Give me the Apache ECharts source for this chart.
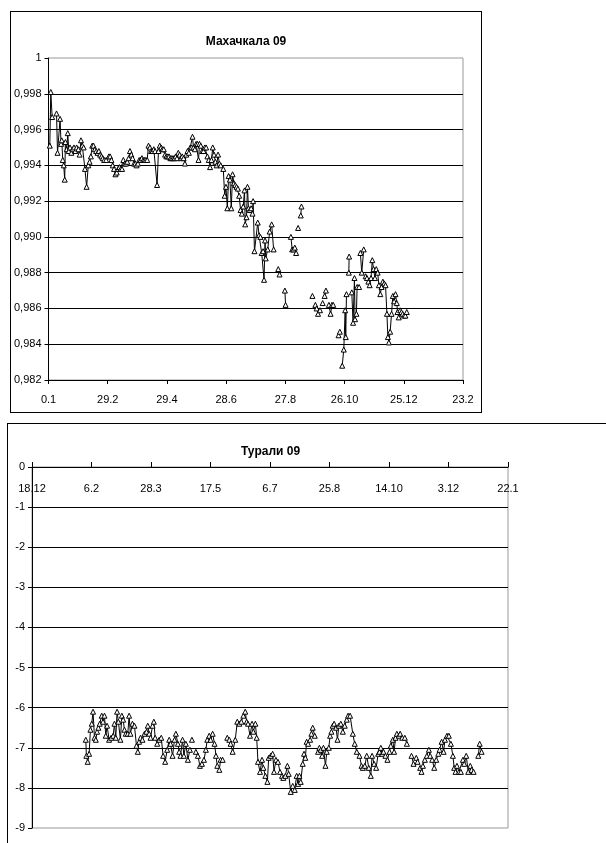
<!DOCTYPE html>
<html>
<head>
<meta charset="utf-8">
<script src="https://cdn.jsdelivr.net/npm/echarts@6/dist/echarts.min.js"></script>
<style>
html,body{margin:0;padding:0;width:606px;height:843px;overflow:hidden;background:#fff;}
#c1{position:absolute;left:10px;top:11px;width:472px;height:402px;border:1px solid #000;box-sizing:border-box;}
#c2{position:absolute;left:7px;top:423px;width:640px;height:440px;border:1px solid #000;box-sizing:border-box;}
</style>
</head>
<body>
<div id="c1"></div>
<div id="c2"></div>
<script>
// ---- Top chart: Махачкала 09 ----
const mkTitle = 'Махачкала 09';
const mkTickLabels = ['0.1','29.2','29.4','28.6','27.8','26.10','25.12','23.2'];
// [day offset from first tick, value]; null = gap in the line
const mkPoints = [
[1.3,0.9951],[2.3,0.9981],[3.7,0.9967],null,
[8.1,0.9969],[9.1,0.9947],[11.7,0.9966],[12.7,0.9952],[13.4,0.9954],[14.4,0.9943],[15.4,0.9940],[16.4,0.9932],
[17.1,0.9953],[18.5,0.9949],[19.5,0.9958],[20.5,0.9948],[21.8,0.9950],[23.1,0.9947],[24.5,0.9949],[25.8,0.9950],
[27.2,0.9948],[28.5,0.9950],[30.2,0.9949],[31.5,0.9946],[32.9,0.9954],[34.2,0.9951],[35.6,0.9950],[36.9,0.9938],
[38.6,0.9928],[40.3,0.9940],[41.6,0.9942],[42.9,0.9945],[44.3,0.9951],[45.6,0.9951],[47.0,0.9949],[48.3,0.9948],
[49.7,0.9947],[51.0,0.9948],[52.3,0.9946],[53.7,0.9945],[55.0,0.9944],[56.4,0.9943],[58.4,0.9943],[61.1,0.9945],
[62.4,0.9945],[63.7,0.9943],[65.1,0.9940],[66.4,0.9938],[67.8,0.9935],[69.1,0.9936],[70.5,0.9938],[71.8,0.9939],
[73.1,0.9938],[74.5,0.9938],[75.8,0.9943],[77.2,0.9941],[78.5,0.9941],[79.8,0.9942],[81.2,0.9944],[82.5,0.9948],
[83.9,0.9946],[85.2,0.9944],[86.6,0.9941],[87.9,0.9941],[89.2,0.9940],[90.6,0.9941],[91.9,0.9943],[93.3,0.9943],
[94.6,0.9944],[96.0,0.9943],[97.3,0.9943],[98.6,0.9943],[100.0,0.9943],[101.3,0.9951],[102.7,0.9950],[104.0,0.9948],
[105.3,0.9948],[106.7,0.9949],[108.0,0.9948],[110.0,0.9929],[111.4,0.9948],[112.7,0.9951],[114.1,0.9950],[115.4,0.9949],
[116.8,0.9949],[118.1,0.9946],[119.4,0.9945],[120.8,0.9945],[122.1,0.9945],[123.5,0.9944],[124.8,0.9944],[126.1,0.9944],
[127.5,0.9944],[128.8,0.9945],[130.2,0.9944],[131.5,0.9947],[132.8,0.9946],[134.2,0.9944],[135.5,0.9945],[136.9,0.9944],
[138.2,0.9941],[139.6,0.9946],[140.9,0.9948],[142.2,0.9947],[143.6,0.9950],[144.9,0.9950],[145.9,0.9956],[146.9,0.9950],
[148.3,0.9949],[149.6,0.9952],[151.0,0.9952],[152.0,0.9943],[153.0,0.9952],[154.3,0.9951],[155.7,0.9948],[157.0,0.9948],
[158.3,0.9950],[159.7,0.9950],[161.0,0.9945],[162.4,0.9943],[163.7,0.9939],[165.1,0.9943],[166.4,0.9950],[167.7,0.9946],
[169.1,0.9942],[170.4,0.9940],[171.8,0.9946],[173.1,0.9941],[174.5,0.9940],[177.1,0.9938],[178.5,0.9923],[179.8,0.9928],
[181.2,0.9916],[182.5,0.9934],[183.8,0.9932],[185.2,0.9916],[186.5,0.9935],[187.9,0.9930],[189.2,0.9929],[190.5,0.9928],
[191.9,0.9927],[193.2,0.9923],[194.6,0.9915],[195.9,0.9913],[197.3,0.9917],[198.6,0.9926],[199.3,0.9907],[200.6,0.9911],
[201.6,0.9928],[202.6,0.9916],[204.0,0.9915],[205.3,0.9916],[206.7,0.9913],[207.3,0.9920],[208.7,0.9892],[212.0,0.9908],
[213.3,0.9901],[214.7,0.9900],[216.0,0.9891],[217.4,0.9892],[218.4,0.9876],[219.4,0.9898],[220.1,0.9888],[222.1,0.9893],
[224.1,0.9903],[226.1,0.9907],[228.1,0.9893],null,
[232.8,0.9882],[234.1,0.9879],null,
[239.5,0.9870],[240.2,0.9862],null,
[245.6,0.9900],[246.9,0.9893],[248.2,0.9893],[249.6,0.9894],[250.9,0.9891],null,
[252.9,0.9905],null,
[255.6,0.9912],[256.3,0.9917],null,
[267.4,0.9867],null,
[270.4,0.9862],[271.7,0.9860],[273.1,0.9857],[275.1,0.9859],null,
[277.8,0.9863],null,
[279.8,0.9867],[281.1,0.9870],null,
[284.1,0.9862],[285.8,0.9857],[287.2,0.9862],[288.5,0.9862],null,
[293.9,0.9845],[295.2,0.9847],null,
[297.6,0.9828],[299.2,0.9837],[300.6,0.9859],[301.2,0.9844],[301.9,0.9868],null,
[304.3,0.9880],[304.6,0.9889],null,
[307.3,0.9869],[308.6,0.9852],[310.0,0.9877],[310.6,0.9854],[312.0,0.9857],[312.7,0.9872],[314.7,0.9872],null,
[316.0,0.9891],[317.4,0.9880],[319.4,0.9893],null,
[321.4,0.9878],[322.7,0.9877],[324.1,0.9875],[325.4,0.9873],[326.8,0.9877],[328.1,0.9887],[329.4,0.9882],[330.8,0.9877],
[332.1,0.9882],[333.5,0.9880],[334.8,0.9873],[336.2,0.9868],[337.5,0.9872],[338.8,0.9875],[340.2,0.9874],[341.5,0.9873],
[342.9,0.9857],[343.9,0.9844],[344.9,0.9841],[346.2,0.9847],[347.6,0.9857],[348.9,0.9867],[350.2,0.9864],[351.6,0.9868],
[352.9,0.9863],[353.6,0.9858],[354.9,0.9855],[356.3,0.9859],[357.6,0.9858],[358.9,0.9857],[360.3,0.9856],[361.6,0.9856],
[363.0,0.9858]
];

// ---- Bottom chart: Турали 09 ----
const trTitle = 'Турали 09';
const trTickLabels = ['18.12','6.2','28.3','17.5','6.7','25.8','14.10','3.12','22.1'];
const trPoints = [
[45.2,-6.8],[45.7,-7.2],[46.8,-7.35],[48.0,-7.15],[49.1,-6.55],[50.2,-6.4],[51.3,-6.1],[52.5,-6.75],[53.6,-6.8],
[54.7,-6.6],[55.8,-6.5],[56.9,-6.4],[58.6,-6.2],[59.7,-6.35],[60.9,-6.2],[62.0,-6.7],[63.1,-6.45],[64.8,-6.8],
[66.5,-6.75],[68.2,-6.7],[69.3,-6.4],[70.4,-6.75],[71.5,-6.1],[72.6,-6.35],[74.3,-6.8],[75.5,-6.2],[76.6,-6.3],
[77.7,-6.55],[78.8,-6.65],[80.5,-6.65],[81.6,-6.2],[82.7,-6.65],[84.4,-6.4],[86.1,-6.45],[87.8,-6.95],[88.9,-7.1],
[90.0,-6.85],[91.2,-6.75],[92.8,-6.8],[94.5,-6.65],[96.2,-6.6],[97.3,-6.45],[98.5,-6.65],[99.6,-6.75],[101.3,-6.45],
[102.4,-6.35],[103.5,-6.75],[105.2,-6.9],[106.9,-6.8],[108.6,-6.75],[110.2,-7.2],[111.9,-7.35],[113.6,-7.05],[115.3,-6.8],
[116.4,-6.9],[118.1,-7.2],[119.8,-6.8],[120.9,-6.65],[122.6,-6.9],[123.7,-7.1],[124.8,-7.2],[126.5,-6.8],[127.6,-7.2],
[129.3,-6.9],[131.0,-7.3],[132.7,-7.05],null,
[134.4,-6.8],null,
[137.7,-7.1],[139.4,-7.2],[141.1,-7.45],[142.8,-7.4],[144.5,-7.3],[146.1,-7.05],[147.3,-6.8],[148.9,-6.7],[150.1,-6.8],
[151.8,-6.65],[153.4,-6.9],[154.6,-7.2],[155.7,-7.45],[157.4,-7.55],[158.5,-7.3],[160.2,-7.3],null,
[164.1,-6.75],[165.8,-6.8],[166.9,-6.9],[168.6,-7.1],[170.8,-6.8],[172.5,-6.35],[174.2,-6.4],[175.9,-6.35],[177.6,-6.2],
[179.2,-6.1],[180.4,-6.35],[181.5,-6.4],[183.2,-6.7],[184.9,-6.4],[186.0,-6.6],[187.7,-6.4],[188.8,-6.75],[189.9,-7.35],
[191.6,-7.6],[193.3,-7.3],[194.4,-7.5],[196.1,-7.7],[197.8,-7.85],[198.9,-7.25],[200.6,-7.2],[202.2,-7.15],[203.4,-7.6],
[205.0,-7.3],[206.7,-7.35],[208.4,-7.6],[210.1,-7.7],[211.2,-7.75],[212.9,-7.7],[214.6,-7.45],[215.7,-7.65],[217.4,-8.1],
[219.1,-7.95],[220.8,-8.05],[222.4,-7.7],[223.6,-7.9],[224.7,-7.7],[225.8,-7.85],[227.5,-7.4],[228.6,-7.15],[229.7,-7.25],
[230.8,-6.85],[232.0,-6.9],[233.7,-6.8],[234.8,-6.65],[235.9,-6.5],[237.6,-6.7],null,
[240.4,-7.1],[241.5,-7.0],[242.6,-7.05],[243.8,-7.2],[244.9,-7.0],[246.6,-7.45],[247.7,-7.1],[249.4,-7.0],[250.5,-6.7],
[251.6,-6.6],[252.7,-6.45],[253.9,-6.4],[255.5,-6.5],[256.7,-6.8],[257.8,-6.45],[259.5,-6.4],[261.2,-6.6],[262.8,-6.45],
[264.5,-6.3],[265.6,-6.2],[267.3,-6.2],[269.6,-6.65],[271.2,-6.9],[272.9,-7.1],[275.2,-7.2],[276.9,-7.45],[278.0,-7.5],
[279.7,-7.45],[281.3,-7.2],[283.0,-7.5],[284.7,-7.7],[285.8,-7.2],[287.5,-7.4],[289.2,-7.5],[290.9,-7.15],[292.0,-7.1],
[293.1,-7.0],[294.2,-7.15],[295.4,-7.1],[297.0,-7.2],[298.7,-7.3],[300.4,-7.1],[301.5,-6.95],[303.2,-6.8],[304.3,-7.1],
[305.5,-6.75],[306.6,-6.65],[308.3,-6.7],[309.4,-6.65],[311.1,-6.75],[313.3,-6.75],[315.0,-6.9],null,
[318.9,-7.2],[320.6,-7.4],null,
[322.9,-7.25],[324.0,-7.35],null,
[326.2,-7.5],[327.3,-7.6],[328.5,-7.45],[330.1,-7.3],[331.8,-7.2],[333.5,-7.05],[334.6,-7.2],[336.3,-7.3],[338.0,-7.5],
[339.7,-7.3],[341.4,-7.15],[342.5,-7.05],[344.2,-6.85],[345.9,-7.1],[347.0,-6.8],[348.7,-6.7],[350.3,-6.7],[352.0,-6.9],
[353.7,-7.2],[354.8,-7.5],[355.9,-7.6],[357.1,-7.45],[358.8,-7.6],[360.4,-7.6],[362.1,-7.3],[363.2,-7.4],[364.9,-7.2],
[366.6,-7.6],[368.3,-7.45],[369.4,-7.55],[371.1,-7.6],null,
[375.0,-7.2],[376.2,-6.9],[377.8,-7.1]
];

function toSeriesData(points){
  const out = [];
  let last = 0;
  for (const p of points){
    if (p === null){ out.push([last + 0.01, '-']); }
    else { out.push([p[0], p[1]]); last = p[0]; }
  }
  return out;
}

const FONT = '"Liberation Sans", Arial, sans-serif';
const lineSeries = (points) => ({
  type: 'line',
  data: toSeriesData(points),
  symbol: 'triangle',
  symbolSize: 5,
  showAllSymbol: true,
  connectNulls: false,
  lineStyle: {color: '#000', width: 1},
  itemStyle: {color: '#fff', borderColor: '#000', borderWidth: 1},
  emphasis: {disabled: true},
  animation: false
});

const c1 = echarts.init(document.getElementById('c1'), null, {renderer: 'canvas'});
c1.setOption({
  animation: false,
  title: {text: mkTitle, left: 'center', top: 19,
    textStyle: {fontFamily: FONT, fontSize: 12, fontWeight: 'bold', color: '#000'}},
  grid: {left: 35, top: 46, width: 417, height: 322, show: true, borderColor: '#999', borderWidth: 1},
  xAxis: {
    type: 'value', min: 0, max: 420, interval: 60,
    axisLine: {lineStyle: {color: '#000', width: 1}},
    axisTick: {show: true, length: 4, lineStyle: {color: '#000'}},
    axisLabel: {margin: 14, fontFamily: FONT, fontSize: 11, color: '#000',
      formatter: v => mkTickLabels[Math.round(v / 60)]},
    splitLine: {show: false}
  },
  yAxis: {
    type: 'value', min: 0.982, max: 1, interval: 0.002,
    axisLine: {show: true, lineStyle: {color: '#000', width: 1}},
    axisTick: {show: true, length: 4, lineStyle: {color: '#000'}},
    axisLabel: {margin: 7, fontFamily: FONT, fontSize: 11, color: '#000',
      formatter: v => Math.abs(v - 1) < 1e-9 ? '1' : v.toFixed(3).replace('.', ',')},
    splitLine: {show: true, showMaxLine: false, lineStyle: {color: '#000', width: 1}}
  },
  series: [lineSeries(mkPoints)]
});

const c2 = echarts.init(document.getElementById('c2'), null, {renderer: 'canvas'});
c2.setOption({
  animation: false,
  title: {text: trTitle, left: 228, top: 17,
    textStyle: {fontFamily: FONT, fontSize: 12, fontWeight: 'bold', color: '#000'}},
  grid: {left: 24, top: 43, width: 476, height: 361, show: true, borderColor: '#999', borderWidth: 1},
  xAxis: {
    type: 'value', position: 'top', min: 0, max: 400, interval: 50,
    axisLine: {lineStyle: {color: '#000', width: 1}},
    axisTick: {show: true, inside: false, length: 5, lineStyle: {color: '#000'}},
    axisLabel: {inside: true, margin: 16, fontFamily: FONT, fontSize: 11, color: '#000',
      formatter: v => trTickLabels[Math.round(v / 50)]},
    splitLine: {show: false}
  },
  yAxis: {
    type: 'value', min: -9, max: 0, interval: 1,
    axisLine: {show: true, lineStyle: {color: '#000', width: 1}},
    axisTick: {show: true, length: 4, lineStyle: {color: '#000'}},
    axisLabel: {margin: 7, fontFamily: FONT, fontSize: 11, color: '#000'},
    splitLine: {show: true, showMaxLine: false, showMinLine: false, lineStyle: {color: '#000', width: 1}}
  },
  series: [lineSeries(trPoints)]
});
</script>
</body>
</html>
